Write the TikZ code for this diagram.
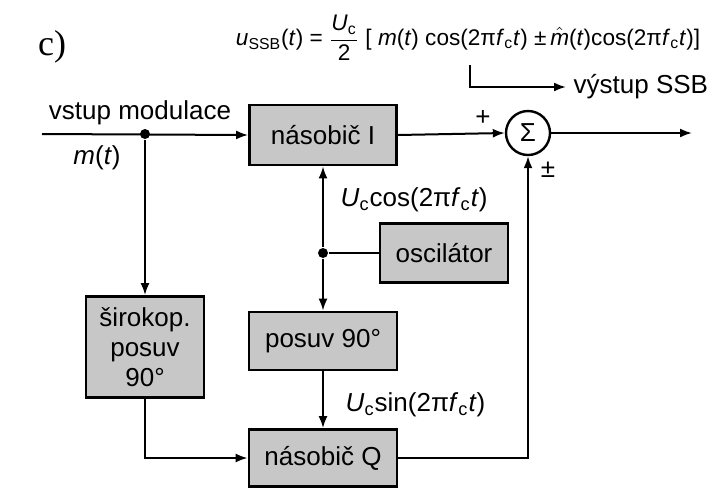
\documentclass[tikz,border=0pt]{standalone}
\usepackage{amsmath}
\usepackage{fontspec}
\setmainfont{Liberation Sans}
\newfontfamily\serifc{Liberation Serif}
\usetikzlibrary{arrows.meta,positioning}
\newcommand{\lo}[1]{\textsubscript{#1}}

\begin{document}
\begin{tikzpicture}[x=0.5pt, y=-0.5pt, line width=1pt, >={Latex[length=6pt, width=4.5pt]},
	every node/.style={font=\fontsize{13}{15}\selectfont},
	blockbox/.style={draw, line width=1.4pt, fill=black!22, inner sep=2pt},
	sumnode/.style={circle, draw, line width=1.2pt, minimum size=22pt, inner sep=0pt},
	dot/.style={circle, fill, inner sep=0pt, minimum size=5pt}]
	\useasboundingbox (0,0) rectangle (715,488);
	% blocks
	\node[blockbox, minimum width=73.5pt, minimum height=30pt] (mulI) at (323,135) {násobič I};
	\node[blockbox, minimum width=74pt, minimum height=29pt] (shift) at (323,341) {posuv 90°};
	\node[blockbox, minimum width=74pt, minimum height=28.5pt] (mulQ) at (323,458) {násobič Q};
	\node[blockbox, minimum width=64pt, minimum height=29.5pt] (osc) at (444,253) {oscilátor};
	\node[blockbox, minimum width=59pt, minimum height=50.5pt, align=center] (wide) at (145,347) {širokop.\\posuv\\90°};
	\node[sumnode] (sum) at (528,133) {Σ};
	% branch points
	\node[dot] (din) at (145,134) {};
	\node[dot] (dosc) at (323,253) {};
	\coordinate (in) at (42,134);
	\coordinate (out) at (692,133);
	% texts
	\node[font=\serifc\fontsize{18}{20}\selectfont] (lab) at (52,47) {c)};
	\node[font=\fontsize{11.3}{13}\selectfont] (formula) at (468,38) {\textit{u}\lo{SSB}(\textit{t}) = $\dfrac{\text{\textit{U}\lo{c}}}{\text{2}}$ [ \textit{m}(\textit{t}) cos(2π\textit{f}\lo{c}\textit{t}) ±\,$\hat{\text{\itshape m}}$(\textit{t})cos(2π\textit{f}\lo{c}\textit{t})]};
	\coordinate (ftap) at (470,65);
	\node[anchor=west] (vyst) at (566,87) {výstup SSB};
	\node (vin) at (140,113) {vstup modulace};
	\node (msig) at (97,158) {\textit{m}(\textit{t})};
	\node (plus) at (483,118) {+};
	\node (pm) at (548,170) {±};
	\node[anchor=west] (cosl) at (333,200) {\textit{U}\lo{c}cos(2π\textit{f}\lo{c}\textit{t})};
	\node[anchor=west] (sinl) at (338,405) {\textit{U}\lo{c}sin(2π\textit{f}\lo{c}\textit{t})};
	% connectors
	\draw[->] (in) -- (mulI.west);
	\draw[->] (din) -- (wide.north);
	\draw[->] (wide.south) |- (mulQ.west);
	\draw (osc.west) -- (dosc);
	\draw[->] (dosc) -- (mulI.south);
	\draw[->] (dosc) -- (shift.north);
	\draw[->] (shift.south) -- (mulQ.north);
	\draw[->] (mulI.east) -- (sum.west);
	\draw[->] (mulQ.east) -| (sum.south);
	\draw[->] (sum.east) -- (out);
	\draw[->] (ftap) |- (vyst.west);
\end{tikzpicture}
\end{document}
